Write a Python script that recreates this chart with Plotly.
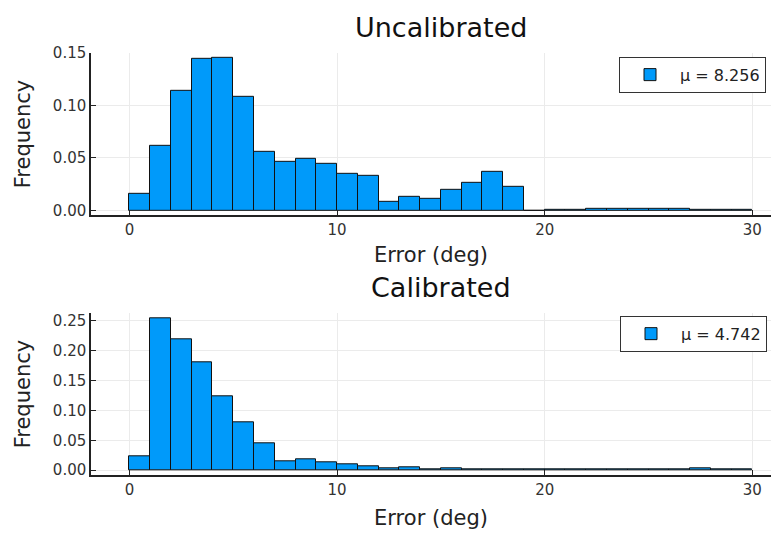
import plotly.graph_objects as go

bin_left = list(range(0, 30))
uncal_freq = [0.0158, 0.0617, 0.1144, 0.1442, 0.1457, 0.1085, 0.0561, 0.0468, 0.0493, 0.0443,
              0.0347, 0.0335, 0.0080, 0.0133, 0.0108, 0.0201, 0.0260, 0.0368, 0.0223, 0.0,
              0.0008, 0.0008, 0.0015, 0.0015, 0.0015, 0.0015, 0.0015, 0.0010, 0.0003, 0.0010]
cal_freq = [0.0233, 0.2544, 0.2193, 0.1800, 0.1235, 0.0798, 0.0443, 0.0157, 0.0189, 0.0129,
            0.0092, 0.0060, 0.0032, 0.0043, 0.0010, 0.0030, 0.0008, 0.0015, 0.0008, 0.0015,
            0.0008, 0.0015, 0.0008, 0.0008, 0.0008, 0.0008, 0.0008, 0.0030, 0.0008, 0.0010]
uncal_label = "μ = 8.256"
cal_label = "μ = 4.742"
titles = ["Uncalibrated", "Calibrated"]
x_ticks = [0, 10, 20, 30]
uncal_yticks = [0.0, 0.05, 0.10, 0.15]
cal_yticks = [0.0, 0.05, 0.10, 0.15, 0.20, 0.25]

W, H = 780, 534
FONT = "DejaVu Sans"
BLUE = "#009AFA"
centers = [b + 0.5 for b in bin_left]

fig = go.Figure()
fig.add_trace(go.Bar(x=centers, y=uncal_freq, width=1, name=uncal_label, showlegend=True,
                     marker=dict(color=BLUE, line=dict(color="#111111", width=1)),
                     xaxis="x", yaxis="y", legend="legend"))
fig.add_trace(go.Bar(x=centers, y=cal_freq, width=1, name=cal_label, showlegend=True,
                     marker=dict(color=BLUE, line=dict(color="#111111", width=1)),
                     xaxis="x2", yaxis="y2", legend="legend2"))

xdom = [91 / W, 771 / W]
top_dom = [1 - 211.7 / H, 1 - 45 / H]
bot_dom = [1 - 478.3 / H, 1 - 312.5 / H]

axis_common = dict(showline=True, linecolor="#222222", linewidth=1.5, mirror=False,
                   showgrid=True, gridcolor="#ebebeb", gridwidth=1, zeroline=False,
                   ticks="inside", ticklen=5, tickcolor="#222222", tickwidth=1,
                   tickfont=dict(family=FONT, size=15, color="#333333"))

xt = dict(tickvals=x_ticks, ticktext=[str(v) for v in x_ticks], range=[-1.85, 30.9])
TF = dict(size=21, family=FONT, color="#222222")

leg_common = dict(xanchor="right", yanchor="top", bordercolor="#333333", borderwidth=1,
                  bgcolor="white", itemwidth=50,
                  font=dict(family=FONT, size=16, color="#222222"))

fig.update_layout(
    width=W, height=H, margin=dict(l=0, r=0, t=0, b=0),
    plot_bgcolor="white", paper_bgcolor="white", bargap=0, showlegend=True,
    font=dict(family=FONT, color="#222222"),
    xaxis=dict(domain=xdom, anchor="y", **xt, **axis_common,
               title=dict(text="Error (deg)", font=TF, standoff=9)),
    yaxis=dict(domain=top_dom, anchor="x", range=[-0.0044, 0.1501],
               tickvals=uncal_yticks, tickformat=".2f", **axis_common,
               title=dict(text="Frequency", font=TF, standoff=16)),
    xaxis2=dict(domain=xdom, anchor="y2", **xt, **axis_common,
                title=dict(text="Error (deg)", font=TF, standoff=13)),
    yaxis2=dict(domain=bot_dom, anchor="x2", range=[-0.0076, 0.262],
                tickvals=cal_yticks, tickformat=".2f", **axis_common,
                title=dict(text="Frequency", font=TF, standoff=16)),
    legend=dict(x=766 / W, y=1 - 49 / H, **leg_common),
    legend2=dict(x=767 / W, y=1 - 315 / H, **leg_common),
    annotations=[
        dict(text=titles[0], x=441 / W, y=1 - 19 / H, xref="paper", yref="paper",
             xanchor="center", yanchor="middle", showarrow=False,
             font=dict(family=FONT, size=27, color="#111111")),
        dict(text=titles[1], x=441 / W, y=1 - 286 / H, xref="paper", yref="paper",
             xanchor="center", yanchor="middle", showarrow=False,
             font=dict(family=FONT, size=27, color="#111111")),
    ],
)

fig.write_html("out.html")
